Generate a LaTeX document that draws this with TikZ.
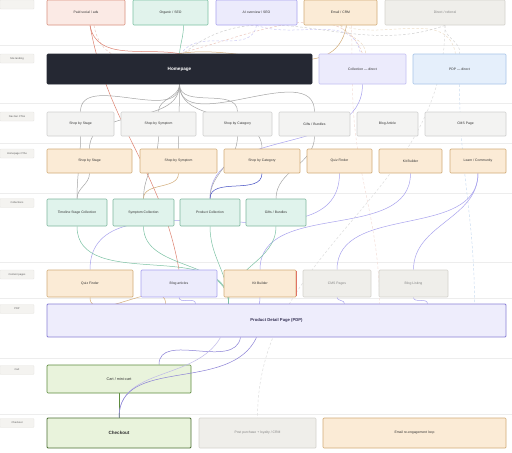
\documentclass[tikz,border=0pt]{standalone}
\usepackage{fontspec}
\setmainfont{Liberation Sans}
\usetikzlibrary{backgrounds}
\definecolor{paidfill}{HTML}{FBEAE5}\definecolor{paidline}{HTML}{D9907E}
\definecolor{seofill}{HTML}{E1F3EC}\definecolor{seoline}{HTML}{7CC2A4}
\definecolor{aifill}{HTML}{ECEBFC}\definecolor{ailine}{HTML}{A9A3EE}
\definecolor{mailfill}{HTML}{FBEBD6}\definecolor{mailline}{HTML}{D2AC78}
\definecolor{grayfill}{HTML}{EFEEEA}\definecolor{grayline}{HTML}{D5D3CD}
\definecolor{navfill}{HTML}{F3F3F2}\definecolor{navline}{HTML}{CFCFCF}
\definecolor{homefill}{HTML}{252833}
\definecolor{pdpdfill}{HTML}{E5EFFB}\definecolor{pdpdline}{HTML}{A7C4E8}
\definecolor{colfill}{HTML}{E0F3EC}\definecolor{colline}{HTML}{7DB79E}
\definecolor{pdpfill}{HTML}{EEEDFC}\definecolor{pdpline}{HTML}{8A80D6}
\definecolor{cartfill}{HTML}{E9F3DC}\definecolor{cartline}{HTML}{5E8C3E}
\definecolor{txt}{HTML}{333333}
\tikzset{
  lane/.style={fill=grayfill!70,draw=grayline!60,rounded corners=.8pt,minimum width=34pt,minimum height=9pt,inner sep=0pt,font=\fontsize{2.6}{3}\selectfont,text=txt!80},
  box/.style={draw,rounded corners=1pt,line width=.7pt,inner sep=0pt,font=\fontsize{3.4}{4}\selectfont,text=txt},
  sep/.style={draw=black!7,line width=.5pt},
  edge/.style={line width=.5pt},
  dashline/.style={line width=.5pt,dash pattern=on 2.5pt off 2pt}
}
\begin{document}
\begin{tikzpicture}[x=1pt,y=-1pt]
	\useasboundingbox (0,0) rectangle (512,453);
	% lanes
	\node[lane] (l0) at (17,4.5) {};
	\node[lane] (l1) at (17,58.5) {Site landing};
	\node[lane] (l2) at (17,116.5) {Nav bar CTAs};
	\node[lane] (l3) at (17,153.5) {Homepage CTAs};
	\node[lane] (l4) at (17,203) {Collections};
	\node[lane] (l5) at (17,274.5) {Content pages};
	\node[lane] (l6) at (17,309) {PDP};
	\node[lane] (l7) at (17,370) {Cart};
	\node[lane] (l8) at (17,423) {Checkout};
	% sources
	\node[box,fill=paidfill,draw=paidline,minimum width=78pt,minimum height=25pt] (paid) at (86,12.5) {Paid social / ads};
	\node[box,fill=seofill,draw=seoline,minimum width=75pt,minimum height=25pt] (seo) at (170.5,12.5) {Organic / SEO};
	\node[box,fill=aifill,draw=ailine,minimum width=81pt,minimum height=25pt] (ai) at (256.5,12.5) {AI overview / SEO};
	\node[box,fill=mailfill,draw=mailline,minimum width=73pt,minimum height=25pt] (mail) at (340.5,12.5) {Email / CRM};
	\node[box,fill=grayfill,draw=grayline,text=txt!60,minimum width=120pt,minimum height=25pt] (direct) at (445,12.5) {Direct / referral};
	% landing
	\node[box,fill=homefill,draw=homefill,text=white,font=\fontsize{4.6}{5}\selectfont\bfseries,minimum width=265pt,minimum height=30pt] (home) at (179.5,69) {Homepage};
	\node[box,fill=aifill,draw=ailine!70,minimum width=87pt,minimum height=30pt] (coldirect) at (362.5,69) {Collection — direct};
	\node[box,fill=pdpdfill,draw=pdpdline,minimum width=93pt,minimum height=30pt] (pdpdirect) at (459.5,69) {PDP — direct};
	% nav bar
	\node[box,fill=navfill,draw=navline,minimum width=67pt,minimum height=24pt] (navstage) at (80.5,124) {Shop by Stage};
	\node[box,fill=navfill,draw=navline,minimum width=75pt,minimum height=24pt] (navsym) at (158.5,124) {Shop by Symptom};
	\node[box,fill=navfill,draw=navline,minimum width=69pt,minimum height=24pt] (navcat) at (237.5,124) {Shop by Category};
	\node[box,fill=navfill,draw=navline,minimum width=71pt,minimum height=24pt] (navgift) at (314.5,124) {Gifts / Bundles};
	\node[box,fill=navfill,draw=navline,minimum width=61pt,minimum height=24pt] (navblog) at (387.5,124) {Blog Article};
	\node[box,fill=navfill,draw=navline,minimum width=81pt,minimum height=24pt] (navcms) at (465.5,124) {CMS Page};
	% homepage ctas
	\node[box,fill=mailfill,draw=mailline,minimum width=85pt,minimum height=24pt] (ctastage) at (89.5,161) {Shop by Stage};
	\node[box,fill=mailfill,draw=mailline,minimum width=77pt,minimum height=24pt] (ctasym) at (178.5,161) {Shop by Symptom};
	\node[box,fill=mailfill,draw=mailline,minimum width=76pt,minimum height=24pt] (ctacat) at (262,161) {Shop by Category};
	\node[box,fill=mailfill,draw=mailline,minimum width=65pt,minimum height=24pt] (ctaquiz) at (339.5,161) {Quiz Finder};
	\node[box,fill=mailfill,draw=mailline,minimum width=63pt,minimum height=24pt] (ctakit) at (410.5,161) {Kit Builder};
	\node[box,fill=mailfill,draw=mailline,minimum width=56pt,minimum height=24pt] (ctalearn) at (478,161) {Learn / Community};
	% collections
	\node[box,fill=colfill,draw=colline,minimum width=60pt,minimum height=27pt] (coltime) at (77,212.5) {Timeline Stage Collection};
	\node[box,fill=colfill,draw=colline,minimum width=61pt,minimum height=27pt] (colsym) at (143.5,212.5) {Symptom Collection};
	\node[box,fill=colfill,draw=colline,minimum width=60pt,minimum height=27pt] (colprod) at (210,212.5) {Product Collection};
	\node[box,fill=colfill,draw=colline,minimum width=60pt,minimum height=27pt] (colgift) at (276,212.5) {Gifts / Bundles};
	% content pages
	\node[box,fill=mailfill,draw=mailline,minimum width=86pt,minimum height=27pt] (quiz) at (90,283.5) {Quiz Finder};
	\node[box,fill=aifill,draw=ailine,minimum width=76pt,minimum height=27pt] (blog) at (179,283.5) {Blog articles};
	\node[box,fill=mailfill,draw=mailline,minimum width=72pt,minimum height=27pt] (kit) at (260,283.5) {Kit Builder};
	\draw[paidline!80!red,line width=.7pt] ([yshift=-1pt]kit.north east) -- ([yshift=1pt]kit.south east);
	\node[box,fill=grayfill,draw=grayline,text=txt!60,minimum width=68pt,minimum height=27pt] (cms) at (337,283.5) {CMS Pages};
	\node[box,fill=grayfill,draw=grayline,text=txt!60,minimum width=69pt,minimum height=27pt] (bloglist) at (413.5,283.5) {Blog Listing};
	% pdp, cart, checkout
	\node[box,fill=pdpfill,draw=pdpline,line width=.9pt,text=pdpline!40!black,font=\fontsize{4.2}{5}\selectfont\bfseries,minimum width=459pt,minimum height=33pt] (pdp) at (276.5,320.5) {Product Detail Page (PDP)};
	\node[box,fill=cartfill,draw=cartline,minimum width=144pt,minimum height=28pt,font=\fontsize{3.8}{4.5}\selectfont] (cart) at (119,379) {Cart / mini-cart};
	\node[box,fill=cartfill,draw=cartline!80!black,line width=.9pt,font=\fontsize{4.6}{5}\selectfont\bfseries,minimum width=144pt,minimum height=30pt] (checkout) at (119,433) {Checkout};
	\node[box,fill=grayfill,draw=grayline,text=txt!60,minimum width=117pt,minimum height=30pt] (post) at (257.5,433) {Post purchase + loyalty / CRM};
	\node[box,fill=mailfill,draw=mailline,minimum width=183pt,minimum height=30pt] (emailloop) at (414.5,433) {Email re-engagement loop};
	% pdp into checkout, over the cart
	\draw[edge,pdpline!55] ([xshift=-56pt]pdp.south) to[out=-120,in=90] (checkout.north);
	\draw[edge,pdpline] ([xshift=-20pt]pdp.south) to[out=-115,in=90] (checkout.north);
	% connectors
	\begin{scope}[on background layer]
	\fill[white] (0,0) rectangle (512,453);
	\foreach \y in {45,103,143,193,262,298,358,414} \draw[sep] (0,\y) -- (512,\y);
	\draw[dashline,paidline!50] ([xshift=8pt]paid.south) to[out=-80,in=110] (coldirect.north);
	\draw[dashline,ailine!60] (ai.south) to[out=-100,in=60] ([xshift=2pt]home.north);
	\draw[dashline,ailine!60] (ai.south) to[out=-20,in=100] ([xshift=-2pt]coldirect.north);
	\draw[dashline,mailline!50] (mail.south) to[out=-60,in=90] ([xshift=3pt]coldirect.north);
	\draw[dashline,mailline!40] (mail.south) to[out=-20,in=100] ([xshift=-4pt]pdpdirect.north);
	\draw[dashline,navline] (direct.south) to[out=-160,in=40] ([xshift=4pt]home.north);
	\draw[dashline,navline!80] (direct.south) to[out=-100,in=80] (pdpdirect.north);
	\draw[dashline,paidline!30] ([xshift=11pt]mail.south) -- ([xshift=-10pt]coldirect.south) to[out=-90,in=90] ([xshift=103pt]pdp.north);
	\draw[dashline,pdpdline!60] (pdpdirect.south) to[out=-90,in=90] ([xshift=198pt]pdp.north);
	\draw[dashline,navline!70] (direct.south) to[out=-90,in=90] (post.north);
	\draw[edge,paidline!90!red] ([xshift=4pt]paid.south) to[out=-80,in=100] (blog.north);
	\draw[edge,paidline!90!red] ([xshift=4pt]paid.south) to[out=-80,in=170] (home.north);
	\draw[edge,seoline] ([xshift=13pt]seo.south) to[out=-90,in=85] (home.north);
	\draw[edge,mailline] ([xshift=6pt]mail.south) to[out=-100,in=10] (home.north);
	\foreach \n in {navstage,navsym,navcat,navgift,ctastage,ctasym,ctacat}
		\draw[edge,navline!80!black] (home.south) to[out=-90,in=90] (\n.north);
	\draw[edge,ailine] (coldirect.south) to[out=-90,in=90] (colprod.north);
	\draw[edge,navline!80!black] (navstage.south) to[out=-90,in=90] (coltime.north);
	\draw[edge,navline!80!black] (ctastage.south) to[out=-90,in=90] (coltime.north);
	\draw[edge,navline!80!black] (navsym.south) to[out=-90,in=90] (colsym.north);
	\draw[edge,mailline] (ctasym.south) to[out=-90,in=90] (colsym.north);
	\draw[edge,navline!80!black] (navcat.south) to[out=-90,in=90] (colprod.north);
	\draw[edge,blue!50!pdpdline!80!black] (ctacat.south) to[out=-90,in=90] (colprod.north);
	\draw[edge,navline!80!black] (navgift.south) to[out=-90,in=90] (colgift.north);
	\draw[edge,ailine] (ctaquiz.south) to[out=-90,in=90] (quiz.north);
	\draw[edge,ailine] (ctakit.south) to[out=-90,in=90] (kit.north);
	\draw[edge,ailine] (ctalearn.south) to[out=-90,in=90] (cms.north);
	\draw[edge,ailine] (ctalearn.south) to[out=-90,in=90] (bloglist.north);
	\foreach \n in {coltime,colsym,colprod,colgift}
		\draw[edge,seoline] (\n.south) to[out=-90,in=90] ([xshift=-48pt]pdp.north);
	\draw[edge,mailline] (quiz.south) to[out=-90,in=90] ([xshift=-111pt]pdp.north);
	\draw[edge,ailine] (blog.south) to[out=-90,in=90] ([xshift=-81pt]pdp.north);
	\draw[edge,ailine] (kit.south) to[out=-90,in=90] ([xshift=-18pt,yshift=-8pt]pdp.north);
	\draw[edge,ailine] (cms.south) to[out=-90,in=90] ([xshift=68pt]pdp.north);
	\draw[edge,ailine] (bloglist.south) to[out=-90,in=90] ([xshift=151pt]pdp.north);
	\draw[edge,pdpline] ([xshift=-36pt]pdp.south) to[out=-100,in=90] ([xshift=40pt]cart.north);
	\draw[edge,cartline,line width=.8pt] (cart.south) -- (checkout.north);
	\end{scope}
\end{tikzpicture}
\end{document}
